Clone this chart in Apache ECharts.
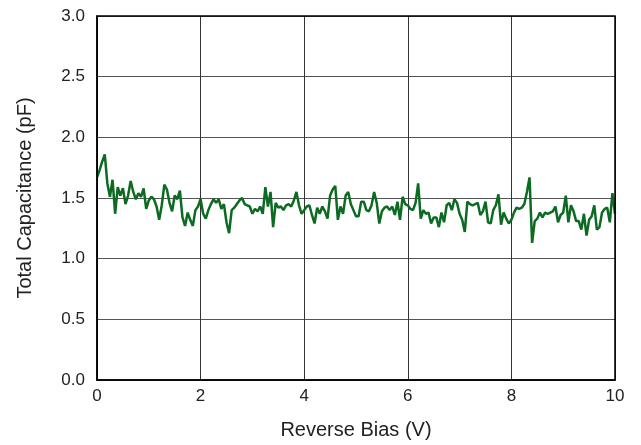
<!DOCTYPE html>
<html>
<head>
<meta charset="utf-8">
<script src="https://cdn.jsdelivr.net/npm/echarts@6/dist/echarts.min.js"></script>
<style>
html,body{margin:0;padding:0;background:#fff;}
#chart{width:641px;height:445px;}
</style>
</head>
<body>
<div id="chart"></div>
<script>
// Reverse bias sweep: 0 to 10 V in 0.05 V steps
const biasStart = 0;
const biasStep = 0.05;
// Total capacitance (pF)
const capacitance = [
1.67,1.73,1.80,1.86,1.62,1.51,1.65,1.37,1.59,1.52,1.58,1.45,1.52,1.64,1.55,1.49,1.54,1.51,1.58,1.41,
1.48,1.51,1.49,1.43,1.32,1.44,1.61,1.57,1.46,1.39,1.52,1.49,1.56,1.34,1.27,1.38,1.32,1.27,1.40,1.43,
1.49,1.37,1.33,1.40,1.45,1.49,1.46,1.49,1.41,1.45,1.30,1.21,1.40,1.42,1.45,1.48,1.50,1.45,1.44,1.43,
1.37,1.41,1.39,1.43,1.37,1.59,1.43,1.55,1.26,1.46,1.42,1.43,1.40,1.44,1.45,1.43,1.48,1.55,1.44,1.37,
1.40,1.43,1.44,1.36,1.29,1.42,1.37,1.43,1.39,1.33,1.52,1.57,1.60,1.32,1.43,1.37,1.52,1.55,1.45,1.40,
1.35,1.35,1.47,1.47,1.40,1.39,1.44,1.55,1.46,1.29,1.39,1.42,1.43,1.40,1.43,1.36,1.47,1.32,1.51,1.45,
1.44,1.41,1.40,1.46,1.62,1.33,1.40,1.37,1.38,1.29,1.34,1.34,1.26,1.38,1.30,1.44,1.46,1.40,1.49,1.46,
1.37,1.32,1.22,1.47,1.45,1.44,1.45,1.46,1.36,1.39,1.47,1.30,1.29,1.40,1.44,1.53,1.28,1.38,1.33,1.29,
1.32,1.38,1.42,1.41,1.42,1.45,1.55,1.67,1.13,1.31,1.33,1.38,1.34,1.38,1.37,1.38,1.39,1.43,1.30,1.36,
1.38,1.52,1.30,1.44,1.39,1.31,1.31,1.24,1.37,1.19,1.32,1.35,1.44,1.24,1.26,1.38,1.41,1.42,1.30,1.54,
1.37
];
const xTicks = [0, 2, 4, 6, 8, 10];
const yTicks = [0.0, 0.5, 1.0, 1.5, 2.0, 2.5, 3.0];

const seriesData = capacitance.map((v, i) => [+(biasStart + i * biasStep).toFixed(2), v]);

const chart = echarts.init(document.getElementById('chart'), null, {renderer: 'canvas'});
const font = 'Liberation Sans, Arial, sans-serif';
chart.setOption({
  animation: false,
  backgroundColor: '#ffffff',
  grid: {left: 97, right: 26, top: 16, bottom: 65, containLabel: false},
  xAxis: {
    type: 'value',
    min: xTicks[0], max: xTicks[xTicks.length - 1], interval: 2,
    name: 'Reverse Bias (V)',
    nameLocation: 'middle', nameGap: 40,
    nameTextStyle: {fontFamily: font, fontSize: 20, color: '#222'},
    axisLine: {show: true, lineStyle: {color: '#000', width: 1.5}},
    axisTick: {show: false},
    axisLabel: {fontFamily: font, fontSize: 17, color: '#222', margin: 8},
    splitLine: {show: true, lineStyle: {color: '#333', width: 1}}
  },
  yAxis: {
    type: 'value',
    min: yTicks[0], max: yTicks[yTicks.length - 1], interval: 0.5,
    name: 'Total Capacitance (pF)',
    nameLocation: 'middle', nameGap: 62,
    nameTextStyle: {fontFamily: font, fontSize: 20, color: '#222'},
    axisLine: {show: true, lineStyle: {color: '#000', width: 1.5}},
    axisTick: {show: false},
    axisLabel: {fontFamily: font, fontSize: 17, color: '#222', margin: 12,
      formatter: v => v.toFixed(1)},
    splitLine: {show: true, lineStyle: {color: '#555', width: 1}}
  },
  series: [{
    type: 'line',
    data: seriesData,
    showSymbol: false,
    lineStyle: {color: '#0c6a22', width: 2.5},
    itemStyle: {color: '#0c6a22'}
  }],
  graphic: [{
    type: 'rect',
    shape: {x: 97, y: 16, width: 518, height: 364},
    style: {fill: 'none', stroke: '#000', lineWidth: 1.5},
    silent: true, z: 100
  }]
});
</script>
</body>
</html>
